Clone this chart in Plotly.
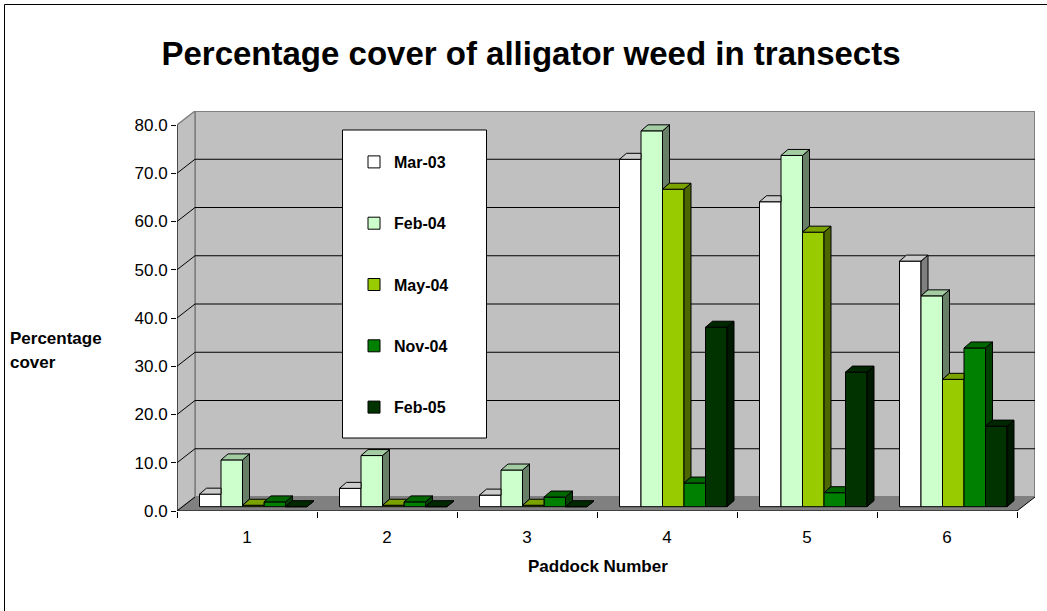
import plotly.graph_objects as go

# ---------------- data ----------------
paddocks = ["1", "2", "3", "4", "5", "6"]
series_names = ["Mar-03", "Feb-04", "May-04", "Nov-04", "Feb-05"]
mar03 = [2.6, 3.8, 2.4, 72.0, 63.2, 50.9]
feb04 = [9.7, 10.6, 7.6, 77.9, 72.8, 43.7]
may04 = [0.3, 0.3, 0.3, 65.8, 56.9, 26.4]
nov04 = [1.0, 1.0, 2.0, 4.9, 2.9, 32.9]
feb05 = [0.0, 0.0, 0.0, 37.2, 27.9, 16.7]
y_ticks = [0, 10, 20, 30, 40, 50, 60, 70, 80]

series_values = [mar03, feb04, may04, nov04, feb05]
front_colors = ["#FFFFFF", "#CCFFCC", "#99CC00", "#008000", "#003300"]


def shade(hex_color, f):
    h = hex_color.lstrip("#")
    r, g, b = (int(h[i:i + 2], 16) for i in (0, 2, 4))
    return "#%02X%02X%02X" % (int(r * f), int(g * f), int(b * f))


top_colors = [shade(c, 0.8) for c in front_colors]
side_colors = [shade(c, 0.5) for c in front_colors]

# ---------------- geometry (pseudo-3D look) ----------------
PX_X = 140.0            # px per category
PX_Y = 400.0 / 82.9     # px per y unit
DX = 18 / PX_X          # wall depth (x units)
DY = 14 / PX_Y          # wall depth (y units)
BASE = 4.3 / PX_Y       # bar base sits a little into the floor
W = 21.5 / PX_X         # bar width
GROUP_OFF = -47.5 / PX_X
BDX = 7 / PX_X          # bar depth
BDY = 6 / PX_Y
K = BDY / BDX
NCAT = len(paddocks)
centers = [i + 0.5 for i in range(NCAT)]

fig = go.Figure()

# front faces as real bars
for i, (name, vals) in enumerate(zip(series_names, series_values)):
    fig.add_trace(go.Bar(
        x=centers, y=vals, base=BASE, width=W, offset=GROUP_OFF + i * W,
        name=name, legendgroup=name,
        marker=dict(color=front_colors[i], line=dict(color="black", width=1)),
        hovertemplate=name + " paddock %{x}: %{y:.1f}<extra></extra>",
    ))

# top and side faces computed from the same values
for i, vals in enumerate(series_values):
    tops_x, tops_y, sides_x, sides_y = [], [], [], []
    for c in range(NCAT):
        x0 = centers[c] + GROUP_OFF + i * W
        xr = x0 + W
        t = BASE + vals[c]
        t_next = BASE + series_values[i + 1][c] if i + 1 < len(series_values) else None
        # top face (clipped by the next bar if it is taller)
        if t_next is not None and t_next > t:
            h = min(t_next, t + BDY)
            px = [x0, xr, xr, xr + (t + BDY - h) / K, x0 + BDX, x0]
            py = [t, t, h, t + BDY, t + BDY, t]
        else:
            px = [x0, xr, xr + BDX, x0 + BDX, x0]
            py = [t, t, t + BDY, t + BDY, t]
        tops_x += px + [None]
        tops_y += py + [None]
        # side face (only part above next bar is visible)
        s = BASE if t_next is None else max(BASE, t_next)
        if t > s or t_next is None:
            sides_x += [xr, xr + BDX, xr + BDX, xr, xr, None]
            sides_y += [s, s + BDY, t + BDY, t, s, None]
    fig.add_trace(go.Scatter(
        x=sides_x, y=sides_y, mode="lines", fill="toself",
        fillcolor=side_colors[i], line=dict(color="black", width=1),
        showlegend=False, hoverinfo="skip"))
    fig.add_trace(go.Scatter(
        x=tops_x, y=tops_y, mode="lines", fill="toself",
        fillcolor=top_colors[i], line=dict(color="black", width=1),
        showlegend=False, hoverinfo="skip"))

# ---------------- walls / floor / gridlines ----------------
shapes = []
shapes.append(dict(type="rect", xref="x", yref="y", x0=DX, x1=NCAT + DX, y0=DY, y1=80 + DY,
                   fillcolor="#C0C0C0", line=dict(color="#808080", width=2), layer="below"))
shapes.append(dict(type="path", xref="x", yref="y",
                   path=f"M 0,0 L {DX},{DY} L {DX},{80 + DY} L 0,80 Z",
                   fillcolor="#C0C0C0", line=dict(color="#808080", width=1.5), layer="below"))
shapes.append(dict(type="path", xref="x", yref="y",
                   path=f"M 0,0 L {NCAT},0 L {NCAT + DX},{DY} L {DX},{DY} Z",
                   fillcolor="#808080", line=dict(width=0), layer="below"))
for v in y_ticks[1:-1]:
    shapes.append(dict(type="line", xref="x", yref="y", x0=DX, x1=NCAT + DX, y0=v + DY, y1=v + DY,
                       line=dict(color="black", width=1), layer="below"))
for v in y_ticks[:-1]:
    shapes.append(dict(type="line", xref="x", yref="y", x0=0, x1=DX, y0=v, y1=v + DY,
                       line=dict(color="black", width=1), layer="below"))
# axis lines
shapes.append(dict(type="line", xref="x", yref="y", x0=0, x1=0, y0=0, y1=80,
                   line=dict(color="black", width=1)))
shapes.append(dict(type="line", xref="x", yref="y", x0=0, x1=NCAT, y0=0, y1=0,
                   line=dict(color="black", width=1)))
shapes.append(dict(type="line", xref="x", yref="y", x0=NCAT, x1=NCAT + DX, y0=0, y1=DY,
                   line=dict(color="black", width=1)))

# legend box and chart border (paper coords)
L, T, PW, PH = 177, 111, 858, 400


def px2paper(xp, yp):
    return (xp - L) / PW, (T + PH - yp) / PH


lx0, ly0 = px2paper(342.5, 438)
lx1, ly1 = px2paper(486.5, 130)
shapes.append(dict(type="rect", xref="paper", yref="paper", x0=lx0, x1=lx1, y0=ly0, y1=ly1,
                   fillcolor="white", line=dict(color="black", width=1), layer="above"))
bx0, by0 = px2paper(4.5, 4.5)
bx1, by1 = px2paper(1060, 620)
shapes.append(dict(type="rect", xref="paper", yref="paper", x0=bx0, x1=bx1, y0=by1, y1=by0,
                   line=dict(color="black", width=1), layer="above"))

FONT = "Arial, Liberation Sans, sans-serif"
leg_x, leg_y = px2paper(354, 145)
ax_x, ax_y = px2paper(598, 566)
p1x, p1y = px2paper(8, 338)
p2x, p2y = px2paper(8, 362)

fig.update_layout(
    width=1047, height=611,
    margin=dict(l=L, r=1047 - L - PW, t=T, b=611 - T - PH),
    paper_bgcolor="white", plot_bgcolor="white",
    barmode="overlay",
    font=dict(family=FONT, color="black"),
    title=dict(text="Percentage cover of alligator weed in transects",
               x=531 / 1047, xanchor="center", xref="container",
               y=1 - 53 / 611, yanchor="middle", yref="container",
               font=dict(family=FONT, size=33, color="black", weight="bold")),
    xaxis=dict(range=[0, NCAT + DX], tickmode="array", tickvals=centers, ticktext=paddocks,
               ticks="", showgrid=False, zeroline=False, showline=False,
               tickfont=dict(size=17), ticklabelstandoff=14,
               minor=dict(tickmode="array", tickvals=list(range(NCAT + 1)), ticks="outside",
                          ticklen=6, tickcolor="black", showgrid=False)),
    yaxis=dict(range=[0, 80 + DY], tickmode="array", tickvals=y_ticks, tickformat=".1f",
               ticks="outside", ticklen=5, tickcolor="black", showgrid=False,
               zeroline=False, showline=False, tickfont=dict(size=17)),
    legend=dict(x=leg_x, y=leg_y, xanchor="left", yanchor="top",
                bgcolor="rgba(0,0,0,0)", borderwidth=0, tracegroupgap=37.5,
                font=dict(size=16, weight="bold")),
    shapes=shapes,
    annotations=[
        dict(text="Paddock Number", xref="paper", yref="paper", x=ax_x, y=ax_y,
             xanchor="center", yanchor="middle", showarrow=False,
             font=dict(size=17, weight="bold")),
        dict(text="Percentage", xref="paper", yref="paper", x=p1x, y=p1y,
             xanchor="left", yanchor="middle", showarrow=False,
             font=dict(size=17, weight="bold")),
        dict(text="cover", xref="paper", yref="paper", x=p2x, y=p2y,
             xanchor="left", yanchor="middle", showarrow=False,
             font=dict(size=17, weight="bold")),
    ],
)

fig.write_html("out.html")
